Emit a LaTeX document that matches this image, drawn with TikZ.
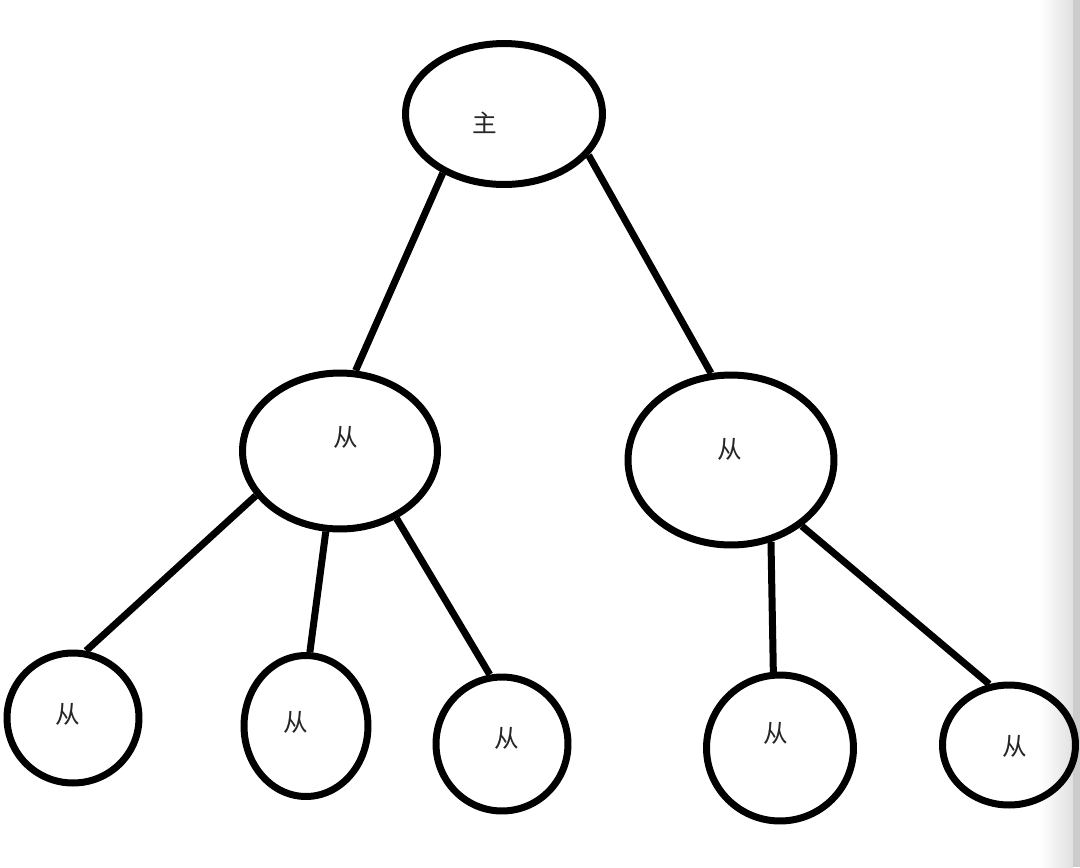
\documentclass[tikz,border=0pt]{standalone}
\usepackage{fontspec}
\newfontfamily\cjk{Noto Sans CJK SC}
\usetikzlibrary{shapes.geometric}
\begin{document}
\begin{tikzpicture}[x=0.02cm,y=-0.02cm,
  bub/.style={draw=black,ellipse,line width=0.14cm,inner sep=0pt},
  lbl/.style={font=\cjk\fontsize{14pt}{16pt}\selectfont,text=black!85,inner sep=0pt},
  edge/.style={draw=black,line width=0.14cm}]
\useasboundingbox (0,0) rectangle (1080,867);
\fill[white] (0,0) rectangle (1080,867);
\shade[left color=white,right color=black!12] (1040,0) rectangle (1073,867);
\fill[black!20] (1073,0) rectangle (1080,867);
% nodes
\node[bub,minimum width=3.94cm,minimum height=2.82cm] (root) at (504,114) {};
\node[bub,minimum width=3.90cm,minimum height=3.12cm] (ml) at (340,451) {};
\node[bub,minimum width=4.12cm,minimum height=3.40cm] (mr) at (731,460) {};
\node[bub,minimum width=2.64cm,minimum height=2.60cm] (l1) at (73,718) {};
\node[bub,minimum width=2.48cm,minimum height=2.82cm] (l2) at (306,726) {};
\node[bub,minimum width=2.64cm,minimum height=2.68cm] (l3) at (502,744) {};
\node[bub,minimum width=2.94cm,minimum height=2.92cm] (l4) at (780,748) {};
\node[bub,minimum width=2.66cm,minimum height=2.40cm] (l5) at (1009,745) {};
% labels
\node[lbl] (troot) at (485,123) {主};
\node[lbl] (tml) at (346,437) {从};
\node[lbl] (tmr) at (730,449) {从};
\node[lbl] (tl1) at (68,714) {从};
\node[lbl] (tl2) at (296,722) {从};
\node[lbl] (tl3) at (507,738) {从};
\node[lbl] (tl4) at (776,733) {从};
\node[lbl] (tl5) at (1015,746) {从};
% connectors
\draw[edge] (root.224) -- (ml.79);
\draw[edge] (root.334) -- (mr.103);
\draw[edge] (ml.208) -- (l1.79);
\draw[edge] (ml.260) -- (l2.87);
\draw[edge] (ml.310) -- (l3.100);
\draw[edge] (mr.296) -- (l4.95);
\draw[edge] (mr.317) -- (l5.108);
\end{tikzpicture}
\end{document}
